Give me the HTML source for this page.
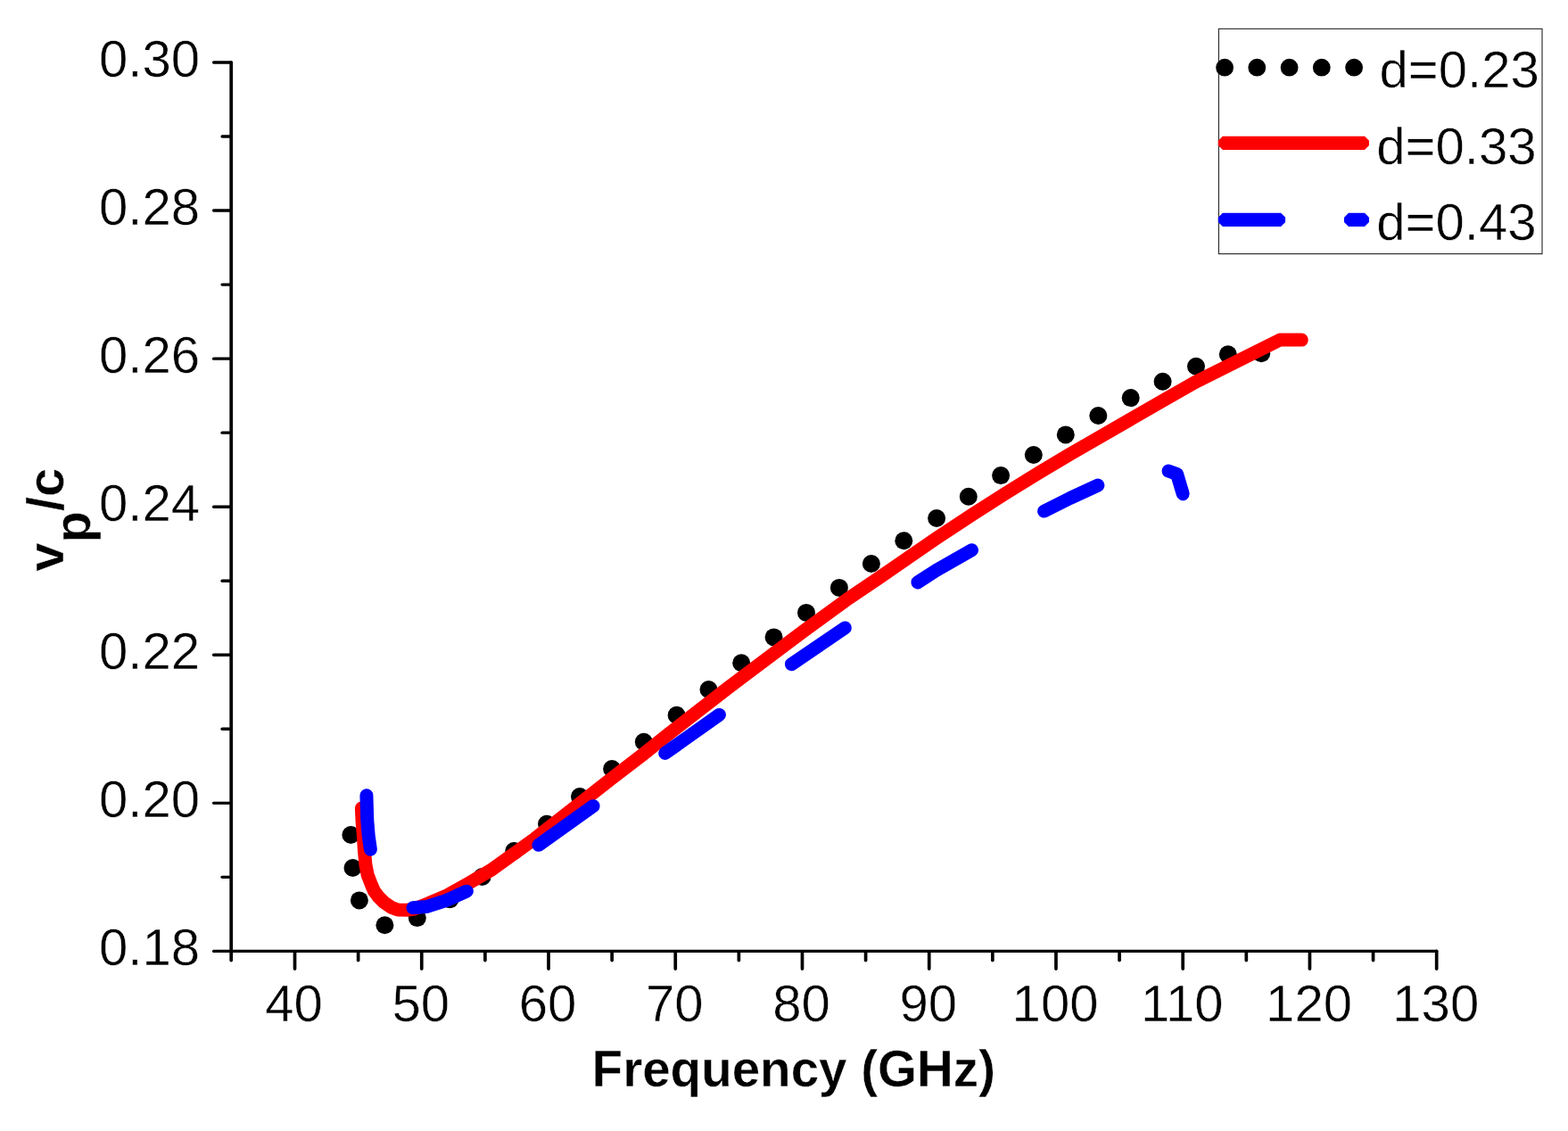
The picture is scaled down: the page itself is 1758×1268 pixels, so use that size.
<!DOCTYPE html>
<html lang="en"><head><meta charset="utf-8"><title>Phase velocity vs Frequency</title>
<style>html,body{margin:0;padding:0;background:#fff;overflow:hidden}svg{display:block}text{font-family:"Liberation Sans",sans-serif;fill:#000}.t{font-size:57px;stroke:#fff;stroke-width:0.5px}.b{font-size:58px;font-weight:bold;stroke:#fff;stroke-width:0.4px}</style></head><body>
<svg width="1758" height="1268" viewBox="0 0 1758 1268">
<rect x="0" y="0" width="1758" height="1268" fill="#fff"/>
<g fill="#000">
<circle cx="393.4" cy="936.0" r="10"/>
<circle cx="395.5" cy="973.0" r="10"/>
<circle cx="402.9" cy="1009.4" r="10"/>
<circle cx="431.4" cy="1037.3" r="10"/>
<circle cx="467.8" cy="1029.1" r="10"/>
<circle cx="504.5" cy="1008.2" r="10"/>
<circle cx="540.6" cy="983.0" r="10"/>
<circle cx="576.3" cy="954.0" r="10"/>
<circle cx="613.0" cy="923.7" r="10"/>
<circle cx="650.0" cy="893.1" r="10"/>
<circle cx="686.1" cy="862.0" r="10"/>
<circle cx="721.8" cy="831.7" r="10"/>
<circle cx="758.6" cy="801.7" r="10"/>
<circle cx="794.5" cy="773.0" r="10"/>
<circle cx="831.2" cy="743.3" r="10"/>
<circle cx="867.6" cy="714.4" r="10"/>
<circle cx="904.0" cy="686.9" r="10"/>
<circle cx="940.9" cy="658.9" r="10"/>
<circle cx="976.9" cy="632.0" r="10"/>
<circle cx="1013.3" cy="606.2" r="10"/>
<circle cx="1050.1" cy="581.0" r="10"/>
<circle cx="1085.8" cy="556.7" r="10"/>
<circle cx="1122.1" cy="533.1" r="10"/>
<circle cx="1158.8" cy="510.0" r="10"/>
<circle cx="1194.8" cy="487.4" r="10"/>
<circle cx="1231.3" cy="466.0" r="10"/>
<circle cx="1267.7" cy="446.1" r="10"/>
<circle cx="1303.6" cy="427.7" r="10"/>
<circle cx="1341.0" cy="410.7" r="10"/>
<circle cx="1376.8" cy="397.2" r="10"/>
<circle cx="1414.2" cy="396.3" r="10"/>
</g>
<polyline fill="none" stroke="#f00" stroke-width="15" stroke-linecap="round" stroke-linejoin="round" points="405.4,906.0 406.0,920.0 407.3,936.0 408.4,953.0 409.9,969.4 412.2,981.0 415.9,990.7 419.5,999.0 424.5,1005.6 430.5,1011.6 438.5,1017.2 446.0,1020.0 456.0,1020.2 463.0,1019.4 480.0,1013.0 500.0,1004.5 525.0,990.5 550.0,975.8 600.0,940.0 685.3,873.2 720.0,846.5 750.0,822.6 817.8,770.0 900.0,708.3 951.2,671.0 985.3,648.0 1019.5,624.4 1050.0,603.4 1090.0,576.9 1126.8,553.5 1165.0,529.8 1200.0,509.0 1220.0,497.5 1303.2,449.5 1340.0,428.5 1434.9,381.1 1459.3,381.1"/>
<g fill="none" stroke="#00f" stroke-width="15" stroke-linecap="round" stroke-linejoin="round">
<polyline points="410.9,891.8 411.8,920.0 413.2,937.0 415.4,952.3"/>
<polyline points="463.0,1017.8 478.0,1016.6 500.0,1009.7 523.3,999.2"/>
<polyline points="603.9,947.3 665.1,903.7"/>
<polyline points="745.7,844.4 806.4,801.4"/>
<polyline points="887.4,744.7 947.4,703.9"/>
<polyline points="1028.9,652.9 1050.0,639.3 1089.5,616.7"/>
<polyline points="1170.6,573.1 1200.0,558.4 1230.9,544.1"/>
<polyline points="1310.0,528.0 1319.6,531.5 1326.2,553.7"/>
</g>
<g stroke="#000" fill="none" stroke-linecap="round">
<g stroke-width="3.7">
<path d="M259.20 70.00 V1076.55"/>
<path d="M330.52 1068.10 V1086.05"/>
<path d="M401.64 1068.10 V1076.55"/>
<path d="M472.76 1068.10 V1086.05"/>
<path d="M543.88 1068.10 V1076.55"/>
<path d="M615.00 1068.10 V1086.05"/>
<path d="M686.12 1068.10 V1076.55"/>
<path d="M757.24 1068.10 V1086.05"/>
<path d="M828.36 1068.10 V1076.55"/>
<path d="M899.48 1068.10 V1086.05"/>
<path d="M970.60 1068.10 V1076.55"/>
<path d="M1041.72 1068.10 V1086.05"/>
<path d="M1112.84 1068.10 V1076.55"/>
<path d="M1183.96 1068.10 V1086.05"/>
<path d="M1255.08 1068.10 V1076.55"/>
<path d="M1326.20 1068.10 V1086.05"/>
<path d="M1397.32 1068.10 V1076.55"/>
<path d="M1468.44 1068.10 V1086.05"/>
<path d="M1539.56 1068.10 V1076.55"/>
<path d="M1610.68 1066.40 V1086.05"/>
</g>
<g stroke-width="3.4">
<path d="M239.60 1066.40 H1610.68"/>
<path d="M249.10 983.37 H257.65"/>
<path d="M239.60 900.33 H257.65"/>
<path d="M249.10 817.30 H257.65"/>
<path d="M239.60 734.27 H257.65"/>
<path d="M249.10 651.23 H257.65"/>
<path d="M239.60 568.20 H257.65"/>
<path d="M249.10 485.17 H257.65"/>
<path d="M239.60 402.13 H257.65"/>
<path d="M249.10 319.10 H257.65"/>
<path d="M239.60 236.07 H257.65"/>
<path d="M249.10 153.03 H257.65"/>
<path d="M239.60 70.00 H259.20"/>
</g>
</g>
<text class="t" text-anchor="end" transform="translate(224.10 1082.10) scale(1.02 1)">0.18</text>
<text class="t" text-anchor="end" transform="translate(224.10 916.03) scale(1.02 1)">0.20</text>
<text class="t" text-anchor="end" transform="translate(224.10 749.97) scale(1.02 1)">0.22</text>
<text class="t" text-anchor="end" transform="translate(224.10 583.90) scale(1.02 1)">0.24</text>
<text class="t" text-anchor="end" transform="translate(224.10 417.83) scale(1.02 1)">0.26</text>
<text class="t" text-anchor="end" transform="translate(224.10 251.77) scale(1.02 1)">0.28</text>
<text class="t" text-anchor="end" transform="translate(224.10 85.70) scale(1.02 1)">0.30</text>
<text class="t" text-anchor="middle" transform="translate(329.62 1144.60) scale(1.02 1)">40</text>
<text class="t" text-anchor="middle" transform="translate(471.86 1144.60) scale(1.02 1)">50</text>
<text class="t" text-anchor="middle" transform="translate(614.10 1144.60) scale(1.02 1)">60</text>
<text class="t" text-anchor="middle" transform="translate(756.34 1144.60) scale(1.02 1)">70</text>
<text class="t" text-anchor="middle" transform="translate(898.58 1144.60) scale(1.02 1)">80</text>
<text class="t" text-anchor="middle" transform="translate(1040.82 1144.60) scale(1.02 1)">90</text>
<text class="t" text-anchor="middle" transform="translate(1183.06 1144.60) scale(1.02 1)">100</text>
<text class="t" text-anchor="middle" transform="translate(1325.30 1144.60) scale(1.02 1)">110</text>
<text class="t" text-anchor="middle" transform="translate(1467.54 1144.60) scale(1.02 1)">120</text>
<text class="t" text-anchor="middle" transform="translate(1609.78 1144.60) scale(1.02 1)">130</text>
<text class="b" text-anchor="middle" transform="translate(889.80 1218.30) scale(0.975 1)">Frequency (GHz)</text>
<text class="b" transform="translate(70.6 640.8) rotate(-90)">v<tspan dy="30.6">p</tspan><tspan dy="-30.6">/c</tspan></text>
<rect x="1366.4" y="32.3" width="362.6" height="252.3" fill="#fff" stroke="#222" stroke-width="1.1"/>
<g fill="#000">
<circle cx="1373.1" cy="75.7" r="9.9"/>
<circle cx="1409.3" cy="75.7" r="9.9"/>
<circle cx="1445.6" cy="75.7" r="9.9"/>
<circle cx="1481.8" cy="75.7" r="9.9"/>
<circle cx="1518.1" cy="75.7" r="9.9"/>
</g>
<polygon fill="#f00" points="1370.8,152.7 1530.0,152.7 1535.0,157.7 1535.0,162.9 1530.0,167.9 1370.8,167.9 1365.8,162.9 1365.8,157.7"/>
<polygon fill="#00f" points="1370.8,238.8 1436.1,238.8 1441.1,243.8 1441.1,249.0 1436.1,254.0 1370.8,254.0 1365.8,249.0 1365.8,243.8"/>
<polygon fill="#00f" points="1512.0,238.8 1530.0,238.8 1535.0,243.8 1535.0,249.0 1530.0,254.0 1512.0,254.0 1507.0,249.0 1507.0,243.8"/>
<text class="t" text-anchor="start" transform="translate(1546.50 98.30) scale(1.02 1)">d=0.23</text>
<text class="t" text-anchor="start" transform="translate(1543.20 184.40) scale(1.02 1)">d=0.33</text>
<text class="t" text-anchor="start" transform="translate(1543.20 269.20) scale(1.02 1)">d=0.43</text>
</svg></body></html>
